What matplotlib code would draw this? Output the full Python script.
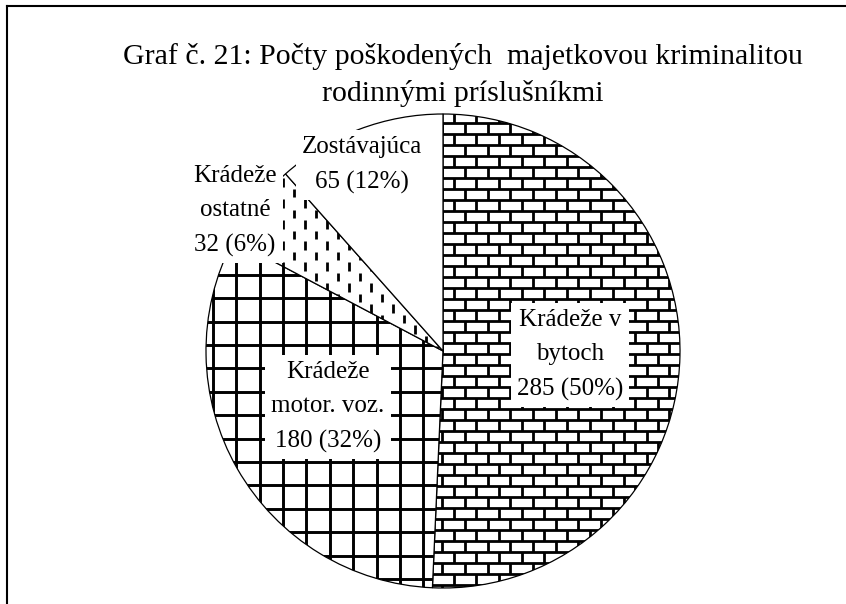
import numpy as np
import matplotlib
matplotlib.use("Agg")
import matplotlib.pyplot as plt
from matplotlib.collections import LineCollection
from matplotlib.lines import Line2D

plt.rcParams['font.family'] = ['Liberation Serif', 'DejaVu Serif']

# data
title = "Graf č. 21: Počty poškodených  majetkovou kriminalitou\nrodinnými príslušníkmi"
names = ['Krádeže v\nbytoch', 'Krádeže\nmotor. voz.', 'Krádeže\nostatné', 'Zostávajúca']
counts = [285, 180, 32, 65]
shares = [50, 32, 6, 12]

# layout (pixels of the 846x604 picture)
W, H = 846, 604
cx, cy, R = 443, 351, 237
label_px = [(570, 355), (328, 407), (235, 211), (362, 165)]


def to_data(x, y):
    return (x - cx) / R, (cy - y) / R


fig = plt.figure(figsize=(W / 100, H / 100), dpi=100)
ax = fig.add_axes([0, 0, 1, 1])
wedges, _ = ax.pie(counts, startangle=90, counterclock=False, radius=1,
                   wedgeprops=dict(facecolor='white', edgecolor='black', linewidth=0.9))
ax.set_xlim(-cx / R, (W - cx) / R)
ax.set_ylim((cy - H) / R, cy / R)
ax.set_aspect('auto')
ax.axis('off')

xlo, xhi = cx - R - 30, cx + R + 30
ylo, yhi = cy - R - 30, cy + R + 30


def brick_segs(bw=22.7, bh=11.0):
    segs = []
    for k in range(-40, 45):
        yt = 123 + k * bh
        segs.append([(xlo, yt), (xhi, yt)])
        x0 = 465 - (k % 2) * bw / 2
        for x in np.arange(x0 - 30 * bw, xhi, bw):
            segs.append([(x, yt), (x, yt + bh)])
    return segs


def grid_segs(step=23.4):
    segs = []
    for k in range(-30, 30):
        x = 283 + k * step
        y = 462 + k * step
        segs.append([(x, ylo), (x, yhi)])
        segs.append([(xlo, y), (xhi, y)])
    return segs


def dash_segs(step=11.0, period=21.0, length=8.5):
    segs = []
    for k in range(-40, 45):
        x = 283 + k * step
        y0 = 199 + (k % 2) * period / 2
        for y in np.arange(y0 - 40 * period, yhi, period):
            segs.append([(x, y), (x, y + length)])
    return segs


patterns = [(brick_segs(), 2.0), (grid_segs(), 2.1), (dash_segs(), 2.0), None]
for w, pat in zip(wedges, patterns):
    if pat is None:
        continue
    segs, lw = pat
    segs = [[to_data(*p) for p in s] for s in segs]
    lc = LineCollection(segs, colors='black', linewidths=lw, zorder=2,
                        capstyle='butt')
    ax.add_collection(lc)
    lc.set_clip_path(w)

for name, n, s, (lx, ly) in zip(names, counts, shares, label_px):
    x, y = to_data(lx, ly)
    ax.text(x, y, f"{name}\n{n} ({s}%)", ha='center', va='center',
            fontsize=18, linespacing=1.72, zorder=3,
            bbox=dict(boxstyle='square,pad=0.25', facecolor='white', edgecolor='none'))

fig.text(463 / W, 1 - 75 / H, title, ha='center', va='center',
         fontsize=21.5, linespacing=1.44)

fig.add_artist(Line2D([7 / W, 7 / W], [0, 1 - 6 / H], color='black', lw=1.5,
                      transform=fig.transFigure))
fig.add_artist(Line2D([7 / W, 1], [1 - 6 / H, 1 - 6 / H], color='black', lw=1.5,
                      transform=fig.transFigure))

fig.savefig('out.png', dpi=100, facecolor='white')
